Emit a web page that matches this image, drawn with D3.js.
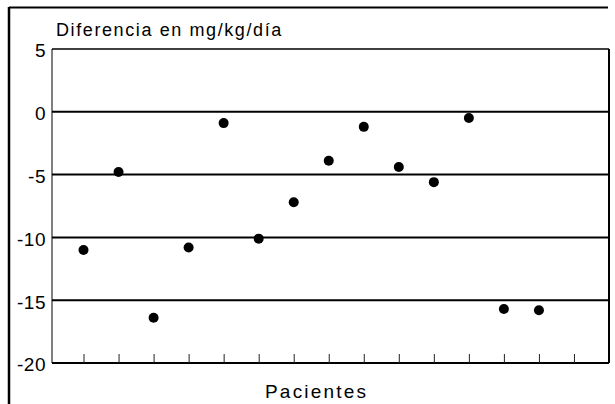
<!doctype html>
<html lang="es">
<head>
<meta charset="UTF-8">
<title>Diferencia en mg/kg/día</title>
<style>
  body { margin: 0; background: #fff; }
  svg text { font-family: "Liberation Sans", Arial, sans-serif; fill: #000; }
</style>
</head>
<body>
<svg id="chart" width="615" height="404"></svg>
<script src="https://d3js.org/d3.v7.min.js"></script>
<script>
// data
var patients = [1, 2, 3, 4, 5, 6, 7, 8, 9, 10, 11, 12, 13, 14];
var diffs = [-11, -4.8, -16.4, -10.8, -0.9, -10.1, -7.2, -3.9, -1.2, -4.4, -5.6, -0.5, -15.7, -15.8];
var xTicks = [1, 2, 3, 4, 5, 6, 7, 8, 9, 10, 11, 12, 13, 14, 15];
var yTicks = [5, 0, -5, -10, -15, -20];
var gridValues = [0, -5, -10, -15];
var title = "Diferencia en mg/kg/día";
var xLabel = "Pacientes";

var plotLeft = 52, plotRight = 609, plotTop = 49, plotBottom = 363;

var svg = d3.select("#chart");

var x = d3.scaleLinear().domain([0.1, 16]).range([plotLeft, plotRight]);
var y = d3.scaleLinear().domain([-20, 5]).range([plotBottom, plotTop]);

// outer frame (top and left only, the rest is cut off)
svg.append("line")
    .attr("x1", 9).attr("x2", 608).attr("y1", 7.5).attr("y2", 7.5)
    .attr("stroke", "#000").attr("stroke-width", 2);
svg.append("line")
    .attr("x1", 9).attr("x2", 9).attr("y1", 7).attr("y2", 404)
    .attr("stroke", "#000").attr("stroke-width", 2.5);

// title
svg.append("text")
    .attr("x", 56).attr("y", 36)
    .attr("font-size", 18)
    .attr("letter-spacing", 1.6)
    .text(title);

// grid lines
svg.selectAll("line.grid")
    .data(gridValues)
  .enter().append("line")
    .attr("class", "grid")
    .attr("x1", plotLeft).attr("x2", plotRight)
    .attr("y1", function(d) { return y(d); })
    .attr("y2", function(d) { return y(d); })
    .attr("stroke", "#000").attr("stroke-width", 2);

// plot frame
svg.append("line")
    .attr("x1", plotLeft).attr("x2", plotRight).attr("y1", y(5)).attr("y2", y(5))
    .attr("stroke", "#000").attr("stroke-width", 1.5);
svg.append("line")
    .attr("x1", plotLeft).attr("x2", plotRight).attr("y1", y(-20)).attr("y2", y(-20))
    .attr("stroke", "#000").attr("stroke-width", 2);
svg.append("line")
    .attr("x1", plotLeft).attr("x2", plotLeft).attr("y1", y(5)).attr("y2", y(-20))
    .attr("stroke", "#000").attr("stroke-width", 1);
svg.append("line")
    .attr("x1", plotRight).attr("x2", plotRight).attr("y1", y(5)).attr("y2", y(-20))
    .attr("stroke", "#000").attr("stroke-width", 2);

// y axis labels (plain hyphen, not the unicode minus)
var yAxis = d3.axisLeft(y).tickValues(yTicks).tickSize(0).tickPadding(5)
    .tickFormat(function(d) { return String(d); });
var gy = svg.append("g").attr("transform", "translate(" + (plotLeft - 1) + ",0)").call(yAxis);
gy.select(".domain").remove();
gy.selectAll("text")
    .attr("font-size", 19)
    .attr("letter-spacing", 0.5)
    .attr("dy", "0.42em")
    .style("font-family", "'Liberation Sans', Arial, sans-serif");

// x axis ticks, pointing up into the plot
var xAxis = d3.axisTop(x).tickValues(xTicks).tickSize(9).tickFormat("");
var gx = svg.append("g").attr("transform", "translate(0," + plotBottom + ")").call(xAxis);
gx.select(".domain").remove();
gx.selectAll("line").attr("stroke", "#222").attr("stroke-width", 1);

// points
svg.selectAll("circle.pt")
    .data(patients)
  .enter().append("circle")
    .attr("class", "pt")
    .attr("cx", function(d) { return x(d); })
    .attr("cy", function(d, i) { return y(diffs[i]); })
    .attr("r", 5)
    .attr("fill", "#000");

// x label
svg.append("text")
    .attr("x", 265).attr("y", 398)
    .attr("font-size", 19)
    .attr("letter-spacing", 2.2)
    .text(xLabel);
</script>
</body>
</html>
